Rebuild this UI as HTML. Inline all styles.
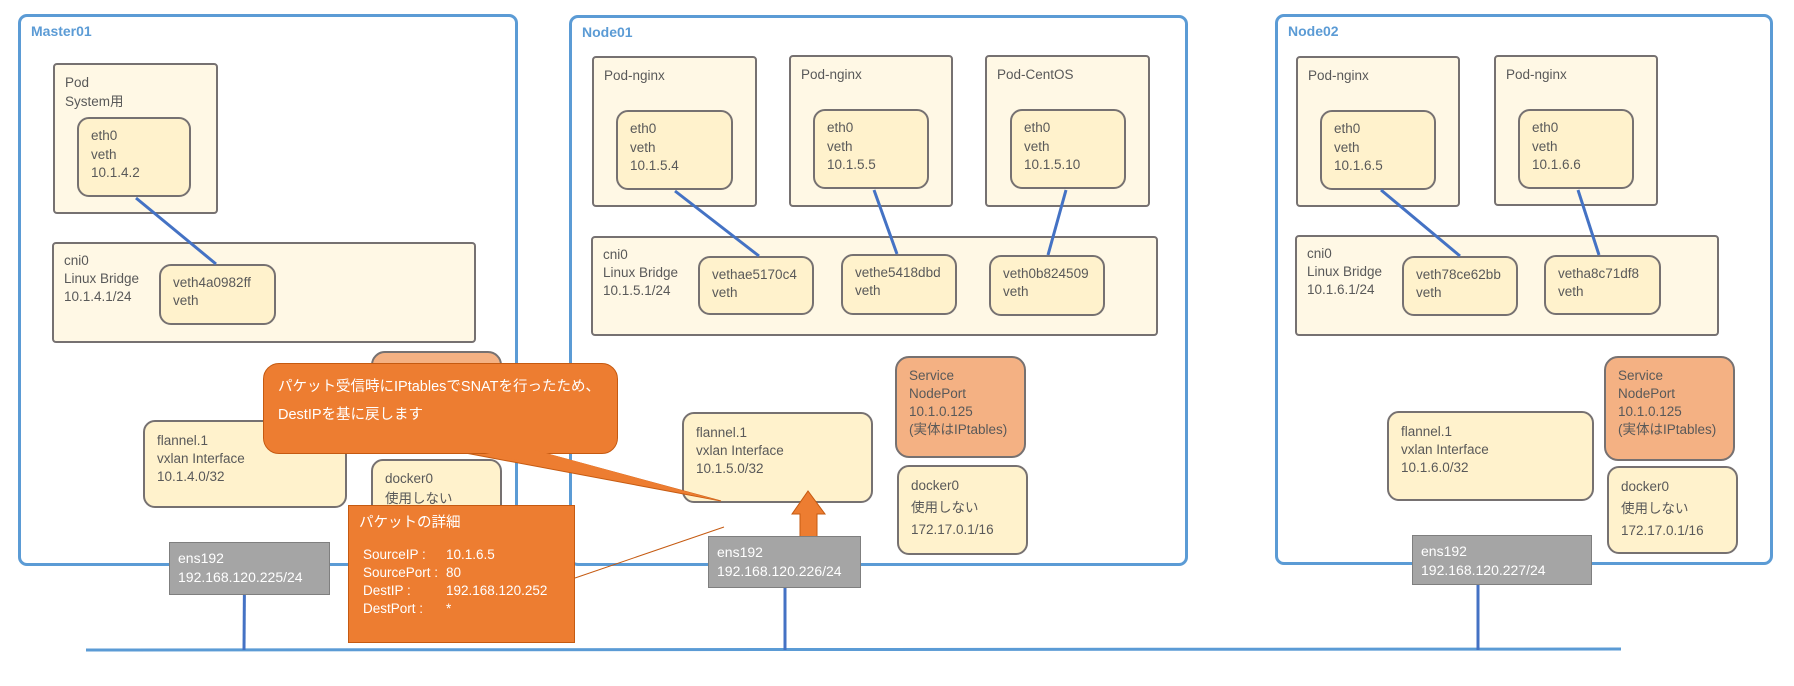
<!DOCTYPE html>
<html><head><meta charset="utf-8"><style>
*{margin:0;padding:0;box-sizing:border-box}
body{width:1794px;height:686px;background:#fff;position:relative;overflow:hidden;font-family:"Liberation Sans","Noto Sans CJK JP",sans-serif;color:#595959;font-size:13.5px}
.a{position:absolute}
.node{border:3px solid #5b9bd5;border-radius:9px;background:#fff}
.node b{position:absolute;left:10px;top:6px;color:#5b9bd5;font-size:14px}
.pod{background:#fff8e5;border:2px solid #767171;border-radius:4px;padding:8px 10px;line-height:19px}
.if{background:#fff2cc;border:2px solid #767171;border-radius:12px;padding:8px 12px;line-height:18.5px}
.svc{background:#f4b183;border:2px solid #767171;border-radius:14px;padding:9px 12px;line-height:18px}
.ens{background:#a5a5a5;border:1.5px solid #7f7f7f;color:#fff;padding:6px 8px;line-height:19px;font-size:14px}
</style></head><body>
<svg class="a" style="left:0;top:0" width="1794" height="686">
<g stroke="#4472c4" stroke-width="3">
<line x1="86" y1="650" x2="1621" y2="649" stroke="#5b9bd5"/>
<line x1="245" y1="508" x2="244" y2="650"/>
<line x1="785" y1="503" x2="785" y2="650"/>
<line x1="1478" y1="501" x2="1478" y2="650"/>
</g></svg>
<div class="a node" style="left:18px;top:14px;width:500px;height:552px"><b>Master01</b></div>
<div class="a node" style="left:569px;top:15px;width:619px;height:551px"><b>Node01</b></div>
<div class="a node" style="left:1275px;top:14px;width:498px;height:551px"><b>Node02</b></div>

<!-- Master01 -->
<div class="a pod" style="left:53px;top:63px;width:165px;height:151px">Pod<br>System用</div>
<div class="a if" style="left:77px;top:117px;width:114px;height:80px">eth0<br>veth<br>10.1.4.2</div>
<div class="a pod" style="left:52px;top:242px;width:424px;height:101px;line-height:18px">cni0<br>Linux Bridge<br>10.1.4.1/24</div>
<div class="a if" style="left:159px;top:264px;width:117px;height:61px;line-height:18px">veth4a0982ff<br>veth</div>
<div class="a svc" style="left:371px;top:351px;width:131px;height:102px"></div>
<div class="a if" style="left:143px;top:420px;width:204px;height:88px;padding-top:10px;line-height:18px">flannel.1<br>vxlan Interface<br>10.1.4.0/32</div>
<div class="a if" style="left:371px;top:459px;width:131px;height:96px;line-height:20px">docker0<br>使用しない</div>

<!-- Node01 -->
<div class="a pod" style="left:592px;top:56px;width:165px;height:151px">Pod-nginx</div>
<div class="a pod" style="left:789px;top:55px;width:164px;height:152px">Pod-nginx</div>
<div class="a pod" style="left:985px;top:55px;width:165px;height:152px">Pod-CentOS</div>
<div class="a if" style="left:616px;top:110px;width:117px;height:80px">eth0<br>veth<br>10.1.5.4</div>
<div class="a if" style="left:813px;top:109px;width:116px;height:80px">eth0<br>veth<br>10.1.5.5</div>
<div class="a if" style="left:1010px;top:109px;width:116px;height:80px">eth0<br>veth<br>10.1.5.10</div>
<div class="a pod" style="left:591px;top:236px;width:567px;height:100px;line-height:18px">cni0<br>Linux Bridge<br>10.1.5.1/24</div>
<div class="a if" style="left:698px;top:256px;width:116px;height:59px;line-height:18px">vethae5170c4<br>veth</div>
<div class="a if" style="left:841px;top:254px;width:116px;height:61px;line-height:18px">vethe5418dbd<br>veth</div>
<div class="a if" style="left:989px;top:255px;width:116px;height:61px;line-height:18px">veth0b824509<br>veth</div>
<div class="a svc" style="left:895px;top:356px;width:131px;height:102px">Service<br>NodePort<br>10.1.0.125<br>(実体はIPtables)</div>
<div class="a if" style="left:897px;top:465px;width:131px;height:90px;line-height:22px">docker0<br>使用しない<br>172.17.0.1/16</div>
<div class="a if" style="left:682px;top:412px;width:191px;height:91px;padding-top:10px;line-height:18px">flannel.1<br>vxlan Interface<br>10.1.5.0/32</div>

<!-- Node02 -->
<div class="a pod" style="left:1296px;top:56px;width:164px;height:151px">Pod-nginx</div>
<div class="a pod" style="left:1494px;top:55px;width:164px;height:151px">Pod-nginx</div>
<div class="a if" style="left:1320px;top:110px;width:116px;height:80px">eth0<br>veth<br>10.1.6.5</div>
<div class="a if" style="left:1518px;top:109px;width:116px;height:80px">eth0<br>veth<br>10.1.6.6</div>
<div class="a pod" style="left:1295px;top:235px;width:424px;height:101px;line-height:18px">cni0<br>Linux Bridge<br>10.1.6.1/24</div>
<div class="a if" style="left:1402px;top:256px;width:116px;height:60px;line-height:18px">veth78ce62bb<br>veth</div>
<div class="a if" style="left:1544px;top:255px;width:117px;height:60px;line-height:18px">vetha8c71df8<br>veth</div>
<div class="a svc" style="left:1604px;top:356px;width:131px;height:105px">Service<br>NodePort<br>10.1.0.125<br>(実体はIPtables)</div>
<div class="a if" style="left:1607px;top:466px;width:131px;height:88px;line-height:22px">docker0<br>使用しない<br>172.17.0.1/16</div>
<div class="a if" style="left:1387px;top:411px;width:207px;height:90px;padding-top:10px;line-height:18px">flannel.1<br>vxlan Interface<br>10.1.6.0/32</div>

<svg class="a" style="left:0;top:0" width="1794" height="686">
<g stroke="#4472c4" stroke-width="3">
<line x1="136" y1="198" x2="216" y2="264"/>
<line x1="675" y1="191" x2="759" y2="256"/>
<line x1="874" y1="190" x2="897" y2="254"/>
<line x1="1066" y1="190" x2="1048" y2="255"/>
<line x1="1381" y1="190" x2="1460" y2="256"/>
<line x1="1578" y1="190" x2="1599" y2="255"/>
</g>
<line x1="575" y1="578" x2="724" y2="527" stroke="#c55a11" stroke-width="1"/>
<polygon points="800,549 817,549 817,514 825,514 808,491 792,514 800,514" fill="#ed7d31" stroke="#c55a11" stroke-width="1"/>
<polygon points="460,452 540,452 721,501" fill="#ed7d31" stroke="#c55a11" stroke-width="1"/>
</svg>

<div class="a ens" style="left:169px;top:542px;width:161px;height:53px">ens192<br>192.168.120.225/24</div>
<div class="a ens" style="left:708px;top:536px;width:153px;height:52px">ens192<br>192.168.120.226/24</div>
<div class="a ens" style="left:1412px;top:535px;width:180px;height:50px">ens192<br>192.168.120.227/24</div>

<div class="a" style="left:263px;top:363px;width:355px;height:91px;background:#ed7d31;border:1px solid #c55a11;border-radius:16px;color:#fff;font-size:14.5px;padding:9px 14px;line-height:28px">パケット受信時にIPtablesでSNATを行ったため、<br>DestIPを基に戻します</div>
<svg class="a" style="left:0;top:0" width="1794" height="686"><polygon points="470,450 535,450 721,501" fill="#ed7d31"/></svg>

<div class="a" style="left:348px;top:505px;width:227px;height:138px;background:#ed7d31;border:1px solid #c55a11;color:#fff;font-size:13.5px">
<div class="a" style="left:10px;top:5px;font-size:14.5px">パケットの詳細</div>
<div class="a" style="left:14px;top:40px;line-height:18px">SourceIP :<br>SourcePort :<br>DestIP :<br>DestPort :</div>
<div class="a" style="left:97px;top:40px;line-height:18px">10.1.6.5<br>80<br>192.168.120.252<br>*</div>
</div>
</body></html>
